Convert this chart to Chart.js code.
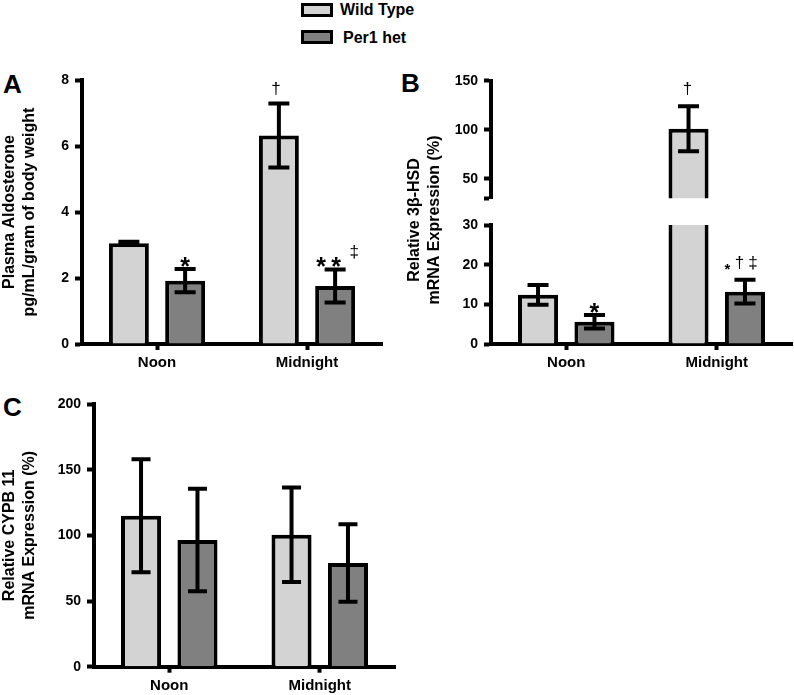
<!DOCTYPE html>
<html><head><meta charset="utf-8">
<script src="https://cdn.jsdelivr.net/npm/chart.js@4.4.1/dist/chart.umd.min.js"></script>
<style>
html,body{margin:0;padding:0;background:#fff;}
body{width:794px;height:695px;position:relative;overflow:hidden;font-family:"Liberation Sans",Arial,sans-serif;color:#000;}
canvas{position:absolute;}
.letter{position:absolute;font-weight:bold;font-size:26px;line-height:26px;}
.leg{position:absolute;font-weight:bold;font-size:16px;line-height:16px;white-space:nowrap;}
.box{position:absolute;box-sizing:border-box;border:3px solid #000;}
</style></head><body>
<div class="box" style="left:301px;top:3px;width:32px;height:14px;background:#d3d3d3"></div>
<div class="leg" style="left:340px;top:2px">Wild Type</div>
<div class="box" style="left:301px;top:30px;width:32px;height:14px;background:#808080"></div>
<div class="leg" style="left:343px;top:30px">Per1 het</div>
<div class="letter" style="left:3px;top:71px">A</div>
<div class="letter" style="left:401px;top:70px">B</div>
<div class="letter" style="left:3px;top:394px">C</div>
<canvas id="cA" width="390" height="320" style="left:0;top:60px"></canvas>
<canvas id="cBhi" width="404" height="320" style="left:390px;top:60px"></canvas>
<canvas id="cBlo" width="404" height="320" style="left:390px;top:60px"></canvas>
<canvas id="cC" width="400" height="310" style="left:0;top:385px"></canvas>
<script>
// ---------- data ----------
const categories = ['Noon', 'Midnight'];
const seriesNames = ['Wild Type', 'Per1 het'];

// A: plasma aldosterone (pg/mL/gram of body weight)
const aldoWT = [3.05, 6.32];
const aldoWTErr = [0.05, 0.97];
const aldoPer = [1.92, 1.76];
const aldoPerErr = [0.35, 0.50];

// B: relative 3β-HSD mRNA expression (%)
const hsdWT = [12.4, 101];
const hsdWTErr = [2.5, 23];
const hsdPer = [5.6, 13.2];
const hsdPerErr = [1.7, 3.0];

// C: relative CYPB 11 mRNA expression (%)
const cypWT = [115, 100.5];
const cypWTErr = [43, 36];
const cypPer = [96.5, 79];
const cypPerErr = [39, 29.5];

// tick values / labels
const ticksA = [0, 2, 4, 6, 8];
const ticksBLow = [0, 10, 20, 30];
const ticksBHigh = [30, 50, 100, 150];
const ticksBHighLabels = ['', '50', '100', '150'];
const ticksC = [0, 50, 100, 150, 200];

// significance marks (series index, category index, text)
const marksA = [
  {series: 1, cat: 0, text: '*'},
  {series: 0, cat: 1, text: '†'},
  {series: 1, cat: 1, text: '*'},
  {series: 1, cat: 1, text: '*'},
  {series: 1, cat: 1, text: '‡'}
];
const marksBHigh = [
  {series: 0, cat: 1, text: '†'}
];
const marksBLow = [
  {series: 1, cat: 0, text: '*'},
  {series: 1, cat: 1, text: '*'},
  {series: 1, cat: 1, text: '†'},
  {series: 1, cat: 1, text: '‡'}
];

// ---------- styling ----------
const FONT = "'Liberation Sans', Arial, sans-serif";
const WT_COLOR = '#d3d3d3';
const PER_COLOR = '#808080';
const LW = 4;
const starBig = 'bold 25px ' + FONT;
const starSmall = 'bold 15px ' + FONT;
const dagger = '17px ' + FONT;
const marksAStyle = [
  {dx: 0, dy: 6, font: starBig},
  {dx: -3, dy: -9, font: dagger},
  {dx: -14, dy: 6, font: starBig},
  {dx: 1, dy: 6, font: starBig},
  {dx: 19, dy: -12, font: dagger}
];
const marksBHighStyle = [
  {dx: -1, dy: -12, font: dagger}
];
const marksBLowStyle = [
  {dx: 0, dy: 6, font: starBig},
  {dx: -17.5, dy: -6, font: starSmall},
  {dx: -5.5, dy: -12, font: dagger},
  {dx: 8, dy: -12, font: dagger}
];

Chart.defaults.font.family = FONT;
Chart.defaults.color = '#000';
Chart.defaults.animation = false;

// ---------- plugins ----------
const errorBarPlugin = {
  id: 'errorBars',
  afterDatasetsDraw(chart, args, o) {
    const ctx = chart.ctx, ys = chart.scales.y;
    ctx.save();
    ctx.strokeStyle = '#000';
    ctx.lineWidth = o.width || 4;
    const cap = o.cap || 10;
    chart.data.datasets.forEach((ds, i) => {
      if (!ds.errors) return;
      const meta = chart.getDatasetMeta(i);
      meta.data.forEach((bar, j) => {
        const v = ds.data[j], e = ds.errors[j];
        if (v < ys.min || v > ys.max) return;
        const x = bar.x;
        const yT = ys.getPixelForValue(v + e);
        const yB = ys.getPixelForValue(v - e);
        ctx.beginPath();
        ctx.moveTo(x, yT); ctx.lineTo(x, yB);
        ctx.moveTo(x - cap, yT); ctx.lineTo(x + cap, yT);
        ctx.moveTo(x - cap, yB); ctx.lineTo(x + cap, yB);
        ctx.stroke();
      });
    });
    ctx.restore();
  }
};

const marksPlugin = {
  id: 'sigMarks',
  afterDatasetsDraw(chart, args, o) {
    if (!o.marks) return;
    const ctx = chart.ctx, ys = chart.scales.y;
    ctx.save();
    ctx.fillStyle = '#000';
    ctx.textAlign = 'center';
    ctx.textBaseline = 'alphabetic';
    o.marks.forEach((m, k) => {
      const st = o.styles[k];
      const ds = chart.data.datasets[m.series];
      const bar = chart.getDatasetMeta(m.series).data[m.cat];
      const top = ys.getPixelForValue(ds.data[m.cat] + ds.errors[m.cat]);
      ctx.font = st.font;
      ctx.fillText(m.text, bar.x + st.dx, top + st.dy);
    });
    ctx.restore();
  }
};

const sideTitlePlugin = {
  id: 'sideTitle',
  afterDraw(chart, args, o) {
    if (!o.text) return;
    const ctx = chart.ctx;
    ctx.save();
    ctx.translate(o.x, o.y);
    ctx.rotate(-Math.PI / 2);
    ctx.font = o.font;
    ctx.fillStyle = '#000';
    ctx.textAlign = 'center';
    ctx.textBaseline = 'middle';
    o.text.forEach((t, i) => ctx.fillText(t, 0, i * o.lineHeight));
    ctx.restore();
  }
};

// ---------- builders ----------
function yAxis(min, max, tickVals, tickLabels, width, title) {
  return {
    type: 'linear', position: 'left', min: min, max: max,
    afterBuildTicks: s => { s.ticks = tickVals.map(v => ({value: v})); },
    afterFit: s => { s.width = width; },
    ticks: {
      color: '#000', padding: 6,
      font: {family: FONT, size: 14, weight: 'bold'},
      callback: (v, i) => tickLabels ? tickLabels[i] : String(v)
    },
    grid: {display: true, drawOnChartArea: false, drawTicks: true, tickLength: 7, tickWidth: LW, tickColor: '#000'},
    border: {display: true, width: LW, color: '#000'},
    title: title ? {
      display: true, text: title, color: '#000',
      font: {family: FONT, size: 16, weight: 'bold', lineHeight: 1.25},
      padding: {top: 0, bottom: 0}
    } : {display: false}
  };
}
function xAxis(height, show) {
  return {
    type: 'category', offset: true, display: show,
    afterFit: s => { s.height = height; },
    grid: {display: true, offset: false, drawOnChartArea: false, drawTicks: true, tickLength: 6, tickWidth: LW, tickColor: '#000'},
    border: {display: true, width: LW, color: '#000'},
    ticks: {color: '#000', padding: 4, font: {family: FONT, size: 15, weight: 'bold'}, maxRotation: 0}
  };
}
function barSet(label, data, errors, color, clip) {
  const d = {
    label: label, data: data, errors: errors,
    backgroundColor: color, borderColor: '#000', borderWidth: LW,
    borderSkipped: 'start',
    categoryPercentage: 0.75, barPercentage: 0.71
  };
  if (clip !== undefined) d.clip = clip;
  return d;
}
function makeChart(id, cfg) {
  return new Chart(document.getElementById(id), {
    type: 'bar',
    data: {labels: categories, datasets: cfg.datasets},
    options: {
      responsive: false, animation: false, devicePixelRatio: 1,
      layout: {padding: cfg.padding},
      scales: {x: cfg.x, y: cfg.y},
      plugins: {
        legend: {display: false}, tooltip: {enabled: false},
        errorBars: {width: 4, cap: cfg.cap || 10.5},
        sigMarks: {marks: cfg.marks, styles: cfg.styles},
        sideTitle: cfg.sideTitle || {}
      }
    },
    plugins: [errorBarPlugin, marksPlugin, sideTitlePlugin]
  });
}

// ---------- panel A ----------
makeChart('cA', {
  datasets: [barSet(seriesNames[0], aldoWT, aldoWTErr, WT_COLOR),
             barSet(seriesNames[1], aldoPer, aldoPerErr, PER_COLOR)],
  padding: {top: 20, right: 8, bottom: 0, left: 0},
  x: xAxis(36, true),
  y: yAxis(0, 8, ticksA, null, 82, ['Plasma Aldosterone', 'pg/mL/gram of body weight']),
  marks: marksA, styles: marksAStyle
});

// ---------- panel B (broken axis: upper and lower segments) ----------
makeChart('cBhi', {
  datasets: [barSet(seriesNames[0], hsdWT, hsdWTErr, WT_COLOR, 0),
             barSet(seriesNames[1], hsdPer, hsdPerErr, PER_COLOR, 0)],
  padding: {top: 20.7, right: 2, bottom: 181.7, left: 0},
  x: xAxis(0, false),
  y: yAxis(30, 150, ticksBHigh, ticksBHighLabels, 101, null),
  marks: marksBHigh, styles: marksBHighStyle
});
makeChart('cBlo', {
  datasets: [barSet(seriesNames[0], hsdWT, hsdWTErr, WT_COLOR, 0),
             barSet(seriesNames[1], hsdPer, hsdPerErr, PER_COLOR, 0)],
  padding: {top: 165, right: 2, bottom: 0, left: 0},
  x: xAxis(36, true),
  y: yAxis(0, 30, ticksBLow, null, 101, null),
  marks: marksBLow, styles: marksBLowStyle,
  sideTitle: {text: ['Relative 3β-HSD', 'mRNA Expression (%)'], x: 24.5, y: 160, lineHeight: 20,
              font: 'bold 16px ' + FONT}
});

// ---------- panel C ----------
makeChart('cC', {
  datasets: [barSet(seriesNames[0], cypWT, cypWTErr, WT_COLOR),
             barSet(seriesNames[1], cypPer, cypPerErr, PER_COLOR)],
  padding: {top: 19, right: 5, bottom: 0, left: 0},
  x: xAxis(28.3, true),
  y: yAxis(0, 200, ticksC, null, 94, ['Relative CYPB 11', 'mRNA Expression (%)']),
  marks: [], styles: [], cap: 9.5
});
</script>
</body></html>
